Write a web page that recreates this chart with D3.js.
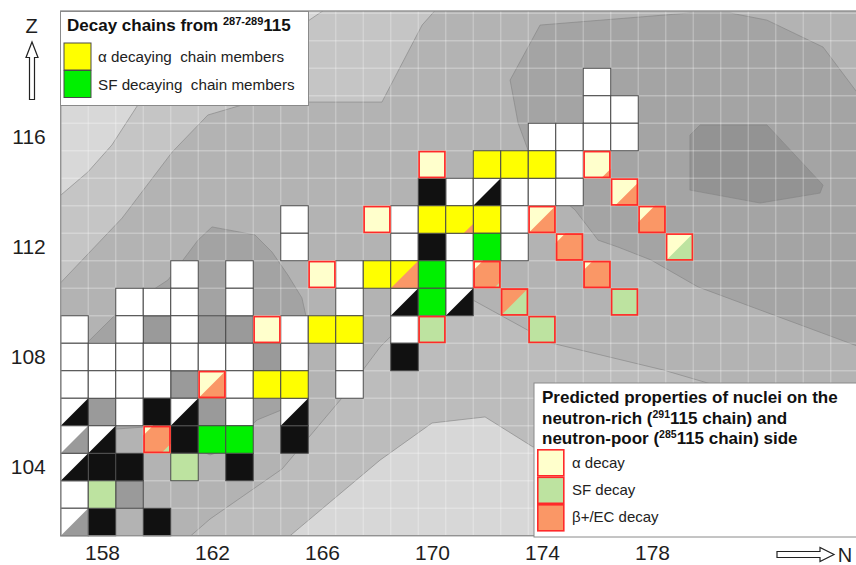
<!DOCTYPE html>
<html>
<head>
<meta charset="utf-8">
<script src="https://cdn.jsdelivr.net/npm/d3@7"></script>
<style>
  body { margin: 0; background: #fff; }
  svg { display: block; font-family: Arial, "Liberation Sans", sans-serif; }
</style>
</head>
<body>
<svg id="chart" width="856" height="565"></svg>
<script>
// ---- data (N = neutron number, Z = proton number) ----
const tickN = [158, 162, 166, 170, 174, 178];
const tickZ = [104, 108, 112, 116];

// background contour regions, [N, Z] vertices
const contourBand = [[156.4,120.7],[170.2,120.7],[169.64,120.07],[168.18,117.27],[163.45,117.27],[161.85,116.8],[160.55,115.45],[158.73,113.05],[156.4,110.6]];
const contourLightNW = [[156.4,120.7],[166.2,120.7],[163.4,118.8],[159.3,117.16],[158.36,115.71],[157.49,114.73],[156.4,113.8]];
const contourMidS = [[161.0,101.3],[161.93,102.11],[164.55,103.93],[166.76,106.55],[168.11,108.36],[169.2,109.45],[171.49,110.07],[174.33,108.51],[178.4,107.53],[186,105.3],[186,101.3]];
const contourLightSE = [[164.6,101.3],[168.11,104.25],[170.0,105.6],[171.93,105.82],[173.67,104.73],[186,104.2],[186,101.3]];
const contourDarkW = [[162.0,112.73],[163.56,112.44],[164.18,111.82],[164.76,110.98],[165.27,110.15],[165.49,109.16],[165.53,108.15],[165.42,106.44],[163.64,105.71],[162.51,104.62],[161.93,104.44],[159.49,105.45],[158.51,105.38],[157.49,105.71],[157.49,108.55],[158.55,109.6],[160.4,110.8],[161.49,112.25]];
const contourDarkNE = [[172.84,118.07],[173.93,120.07],[179.38,120.51],[180.84,120.51],[182.18,120.25],[184.22,119.27],[186,116.9],[186,108.2],[181.93,109.71],[179.67,110.55],[177.96,111.53],[176.76,112.0],[176.04,112.25],[175.2,113.35],[174.33,114.07],[173.49,115.53],[173.13,116.51]];
const contourDarkestNE = [[179.38,116.07],[179.75,116.44],[182.18,116.44],[184.22,114.25],[184.11,113.96],[181.93,113.6],[179.38,114.07]];

// known nuclei
const white = [[176,118],[176,117],[177,117],[174,116],[175,116],[176,116],[177,116],[175,115],
  [171,114],[173,114],[174,114],[175,114],[165,113],[169,113],[173,113],[165,112],[169,112],[171,112],[173,112],
  [161,111],[163,111],[167,111],[171,111],[159,110],[160,110],[161,110],[163,110],[167,110],
  [157,109],[159,109],[161,109],[165,109],[169,109],
  [157,108],[158,108],[159,108],[160,108],[161,108],[162,108],[163,108],[165,108],[167,108],
  [157,107],[158,107],[159,107],[160,107],[163,107],[167,107],[159,106],[163,106],[157,103]];
const black = [[170,114],[170,112],[169,108],[160,106],[161,105],[165,105],[158,104],[159,104],[163,104],[158,102],[160,102]];
const whiteBlack = [[172,114],[169,110],[171,110],[157,106],[161,106],[165,106],[158,105],[157,104]];
const whiteGrey = [[157,105],[157,102]];
const greyCells = [[160,109],[162,109],[163,109],[164,108],[161,107],[158,106],[162,106],[159,103]];
const sfOther = [[161,104],[158,103]];

// decay chains from 287-289 115
const alphaChain = [[172,115],[173,115],[174,115],[170,113],[172,113],[168,111],[166,109],[167,109],[164,107],[165,107]];
const sfChain = [[172,112],[170,111],[170,110],[162,105],[163,105]];
// [N, Z, fill, top-left corner, size, bottom-right corner, size]
const chainMixed = [[171,113,"y",null,0,"b",0.35],[169,111,"y",null,0,"b",1]];

// predicted (291115 and 285115 chains): a = alpha, sf = SF, b = beta+/EC
const predicted = [
  [170,115,"a"],[168,113,"a"],[166,111,"a"],[164,109,"a"],
  [162,107,"a",null,0,"b",1],
  [160,105,"b","a",0.35,"sf",0.35],
  [176,115,"a",null,0,"b",0.35],
  [177,114,"a",null,0,"b",0.85],
  [178,113,"b","a",0.6],
  [179,112,"a",null,0,"sf",1],
  [174,113,"a",null,0,"b",1],
  [175,112,"b","a",0.35],
  [176,111,"b","a",0.35],
  [177,110,"sf"],
  [172,111,"b","a",0.35,"sf",0.25],
  [173,110,"b",null,0,"sf",1],
  [174,109,"sf"],
  [170,109,"sf"]
];

// ---- drawing ----
const color = {w: "#ffffff", k: "#111111", y: "#ffff00", g: "#00f000", a: "#ffffcc", sf: "#bde3a0", b: "#fa9766", d: "#9a9a9a"};
const svg = d3.select("#chart");
const W = 856;
const x = d3.scaleLinear().domain([158, 178]).range([102, 652]);
const y = d3.scaleLinear().domain([104, 116]).range([467, 137]);
const cw = x(1) - x(0);
const pL = x(156.5), pR = W, pT = 11, pB = y(101.5);

svg.append("clipPath").attr("id", "plot")
  .append("rect").attr("x", pL).attr("y", pT).attr("width", pR - pL).attr("height", pB - pT);

const bg = svg.append("g").attr("clip-path", "url(#plot)");
bg.append("rect").attr("x", pL).attr("y", pT).attr("width", pR - pL).attr("height", pB - pT).attr("fill", "#b3b3b3");

const area = d3.line().x(d => x(d[0])).y(d => y(d[1])).curve(d3.curveLinearClosed);
[[contourBand, "#c5c5c5"], [contourLightNW, "#d8d8d8"], [contourMidS, "#bcbcbc"], [contourLightSE, "#d7d7d7"],
 [contourDarkW, "#a3a3a3"], [contourDarkNE, "#a4a4a4"], [contourDarkestNE, "#939393"]].forEach(([pts, c]) => {
  bg.append("path").attr("d", area(pts)).attr("fill", c)
    .attr("stroke", "#858585").attr("stroke-width", 0.9).attr("stroke-opacity", 0.7);
});

// faint grid at cell boundaries
bg.selectAll(".gv").data(d3.range(156.5, 186, 1)).enter().append("line")
  .attr("x1", d => x(d)).attr("x2", d => x(d)).attr("y1", pT).attr("y2", pB)
  .attr("stroke", "#fff").attr("stroke-opacity", 0.28).attr("stroke-width", 1.3);
bg.selectAll(".gh").data(d3.range(101.5, 121, 1)).enter().append("line")
  .attr("y1", d => y(d)).attr("y2", d => y(d)).attr("x1", pL).attr("x2", pR)
  .attr("stroke", "#fff").attr("stroke-opacity", 0.28).attr("stroke-width", 1.3);

const cells = svg.append("g");

function corner(s, which) {
  // polygon in unit-cell coords (u right, v down)
  let p;
  if (which === "tl") p = [[0,0],[s,0],[0,s]];
  else if (s <= 1) p = [[1,1-s],[1,1],[1-s,1]];
  else { const t = 2 - s; p = [[t,0],[1,0],[1,1],[0,1],[0,t]]; }
  return p;
}

function addCell(d, stroke, sw) {
  const [n, z, fill, tlC, tlS, brC, brS] = d;
  const x0 = x(n) - cw / 2, y0 = y(z) - cw / 2;
  const g = cells.append("g");
  g.append("rect").attr("x", x0).attr("y", y0).attr("width", cw).attr("height", cw).attr("fill", color[fill]);
  const toPx = p => p.map(q => [x0 + q[0] * cw, y0 + q[1] * cw].join(",")).join(" ");
  if (tlC) g.append("polygon").attr("points", toPx(corner(tlS, "tl"))).attr("fill", color[tlC]);
  if (brC) g.append("polygon").attr("points", toPx(corner(brS, "br"))).attr("fill", color[brC]);
  const red = stroke === "red", o = red ? sw / 2 : 0;
  g.append("rect").attr("x", x0 + o).attr("y", y0 + o)
    .attr("width", cw - 2 * o).attr("height", cw - 2 * o)
    .attr("fill", "none").attr("stroke", red ? "#ff2a2a" : "#4a4a4a").attr("stroke-width", sw);
}

greyCells.forEach(d => addCell([d[0], d[1], "d"], "grey", 1));
white.forEach(d => addCell([d[0], d[1], "w"], "grey", 1));
black.forEach(d => addCell([d[0], d[1], "k"], "grey", 1));
whiteBlack.forEach(d => addCell([d[0], d[1], "w", null, 0, "k", 1], "grey", 1));
whiteGrey.forEach(d => addCell([d[0], d[1], "w", null, 0, "d", 1], "grey", 1));
sfOther.forEach(d => addCell([d[0], d[1], "sf"], "grey", 1));
alphaChain.forEach(d => addCell([d[0], d[1], "y"], "grey", 1));
sfChain.forEach(d => addCell([d[0], d[1], "g"], "grey", 1));
chainMixed.forEach(d => addCell(d, "grey", 1));
predicted.forEach(d => addCell(d, "red", 1.7));

// plot frame
svg.append("rect").attr("x", pL).attr("y", pT).attr("width", pR - pL + 2).attr("height", pB - pT)
  .attr("fill", "none").attr("stroke", "#8a8a8a").attr("stroke-width", 1.3);

// axes
const yAxis = svg.append("g").attr("transform", `translate(${pL},0)`)
  .call(d3.axisLeft(y).tickValues(tickZ).tickSize(0).tickPadding(15).tickFormat(d3.format("d")));
const xAxis = svg.append("g").attr("transform", `translate(0,${pB})`)
  .call(d3.axisBottom(x).tickValues(tickN).tickSize(0).tickPadding(9).tickFormat(d3.format("d")));
[yAxis, xAxis].forEach(a => {
  a.select(".domain").remove();
  a.selectAll("text").attr("font-size", 21).attr("fill", "#1e1e1e").attr("font-family", "Arial, 'Liberation Sans', sans-serif");
});

// axis name arrows
svg.append("text").attr("x", 31.5).attr("y", 33).attr("text-anchor", "middle").attr("font-size", 20).attr("fill", "#1e1e1e").text("Z");
svg.append("polygon").attr("points", "29.5,99.5 29.5,57.5 26,57.5 32,42 38,57.5 34.5,57.5 34.5,99.5")
  .attr("fill", "#fff").attr("stroke", "#222").attr("stroke-width", 1.2);
svg.append("polygon").attr("points", "777,551.5 820,551.5 820,547.5 834,554.5 820,561.5 820,557.5 777,557.5")
  .attr("fill", "#fff").attr("stroke", "#222").attr("stroke-width", 1.2);
svg.append("text").attr("x", 845).attr("y", 562).attr("text-anchor", "middle").attr("font-size", 20).attr("fill", "#1e1e1e").text("N");

// legend 1
const lg1 = svg.append("g");
lg1.append("rect").attr("x", 60.5).attr("y", 11.5).attr("width", 248).attr("height", 94)
  .attr("fill", "#fff").attr("stroke", "#8a8a8a").attr("stroke-width", 1);
const t1 = lg1.append("text").attr("x", 67).attr("y", 31).attr("font-size", 17).attr("font-weight", "bold").attr("fill", "#111");
t1.append("tspan").text("Decay chains from ");
t1.append("tspan").attr("font-size", 11).attr("dy", -6).text("287-289");
t1.append("tspan").attr("dy", 6).text("115");
[["y", "\u03b1 decaying  chain members"], ["g", "SF decaying  chain members"]].forEach(([c, label], i) => {
  lg1.append("rect").attr("x", 64).attr("y", 43 + i * 27.5).attr("width", 27).attr("height", 27)
    .attr("fill", color[c]).attr("stroke", "#4a4a4a").attr("stroke-width", 1);
  lg1.append("text").attr("x", 98).attr("y", 62 + i * 27.5).attr("font-size", 15.2).attr("fill", "#222")
    .style("white-space", "pre").text(label);
});

// legend 2
const lg2 = svg.append("g");
lg2.append("rect").attr("x", 534).attr("y", 383).attr("width", 330).attr("height", 154)
  .attr("fill", "#fff").attr("stroke", "#8a8a8a").attr("stroke-width", 1);
const l2 = [["Predicted properties of nuclei on the"], ["neutron-rich (", "291", "115 chain) and"], ["neutron-poor (", "285", "115 chain) side"]];
l2.forEach((parts, i) => {
  const t = lg2.append("text").attr("x", 542).attr("y", 403 + i * 20.5).attr("font-size", 17)
    .attr("font-weight", "bold").attr("fill", "#111");
  t.append("tspan").text(parts[0]);
  if (parts[1]) {
    t.append("tspan").attr("font-size", 10.5).attr("dy", -6).text(parts[1]);
    t.append("tspan").attr("dy", 6).text(parts[2]);
  }
});
[["a", "\u03b1 decay"], ["sf", "SF decay"], ["b", "\u03b2+/EC decay"]].forEach(([c, label], i) => {
  lg2.append("rect").attr("x", 537.8).attr("y", 449.8 + i * 27.5).attr("width", 26).attr("height", 26)
    .attr("fill", color[c]).attr("stroke", "#ff2a2a").attr("stroke-width", 1.6);
  lg2.append("text").attr("x", 572).attr("y", 468 + i * 27.2).attr("font-size", 15).attr("fill", "#222").text(label);
});
</script>
</body>
</html>
